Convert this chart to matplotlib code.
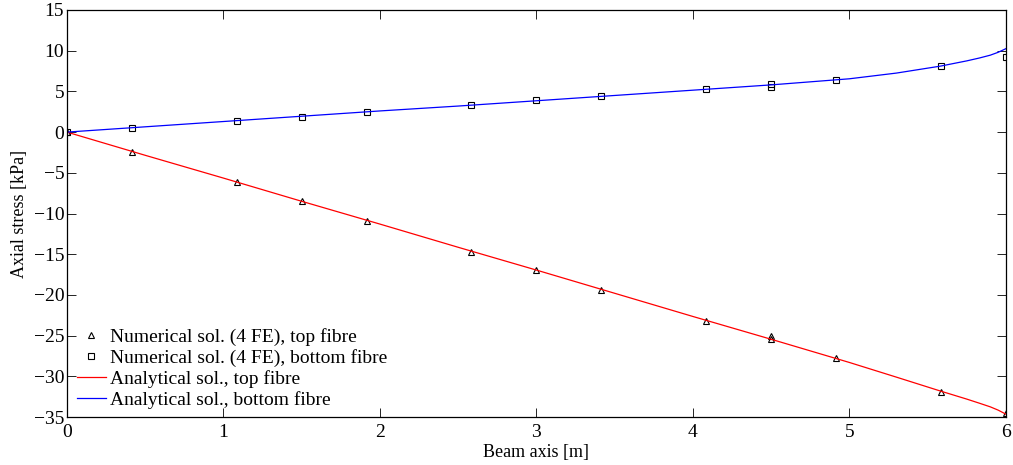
import matplotlib
matplotlib.use("Agg")
import matplotlib.pyplot as plt

plt.rcParams['font.family'] = ['Liberation Serif', 'DejaVu Serif']

# numerical solution (4 FE)
x_num = [0, 0.415, 1.086, 1.5, 1.915, 2.585, 3.0, 3.415, 4.085, 4.5, 4.5, 4.915, 5.585, 6.0]
top_num = [0, -2.4, -6.1, -8.5, -10.9, -14.7, -17.0, -19.4, -23.2, -25.1, -25.4, -27.8, -31.9, -34.5]
bot_num = [0, 0.5, 1.4, 1.9, 2.5, 3.3, 3.9, 4.4, 5.3, 5.9, 5.5, 6.4, 8.1, 9.2]

# analytical solution
x_ana = [0, 0.5, 1.0, 1.5, 2.0, 2.5, 3.0, 3.5, 4.0, 4.5, 5.0, 5.3, 5.58, 5.75, 5.83, 5.9, 5.95, 6.0]
top_ana = [0, -2.85, -5.65, -8.5, -11.3, -14.15, -16.95, -19.8, -22.65, -25.45, -28.3, -30.1,
           -31.8, -32.8, -33.3, -33.75, -34.15, -34.65]
bot_ana = [0, 0.65, 1.3, 1.95, 2.6, 3.2, 3.85, 4.5, 5.15, 5.8, 6.55, 7.25, 8.1, 8.75, 9.1,
           9.45, 9.8, 10.25]

fig = plt.figure(figsize=(10.13, 4.65), dpi=100)
ax = fig.add_axes([0.0661, 0.1032, 0.9269, 0.8753])

ax.plot(x_num, top_num, '^', mfc='none', mec='k', ms=5, mew=0.8,
        label='Numerical sol. (4 FE), top fibre')
ax.plot(x_num, bot_num, 's', mfc='none', mec='k', ms=4.5, mew=0.8,
        label='Numerical sol. (4 FE), bottom fibre')
ax.plot(x_ana, top_ana, '-', color='#ff0000', lw=0.9, label='Analytical sol., top fibre')
ax.plot(x_ana, bot_ana, '-', color='#0000ff', lw=0.9, label='Analytical sol., bottom fibre')

ax.set_xlim(0, 6)
ax.set_ylim(-35, 15)
ax.set_xticks(range(0, 7))
ax.set_yticks(range(-35, 16, 5))
ax.tick_params(direction='in', length=6.5, width=0.6, top=True, right=True,
               labelsize=14)
ax.tick_params(axis='x', pad=5)
ax.tick_params(axis='y', pad=2)
for s in ax.spines.values():
    s.set_linewidth(0.9)

ax.set_xlabel('Beam axis [m]', fontsize=13, labelpad=2)
ax.set_ylabel('Axial stress [kPa]', fontsize=13, labelpad=4)

ax.legend(loc='lower left', frameon=False, fontsize=14, handlelength=1.5,
          handletextpad=0.2, labelspacing=0.17, borderaxespad=0.0,
          bbox_to_anchor=(0.002, 0.0))

fig.savefig('out.png', dpi=100)
